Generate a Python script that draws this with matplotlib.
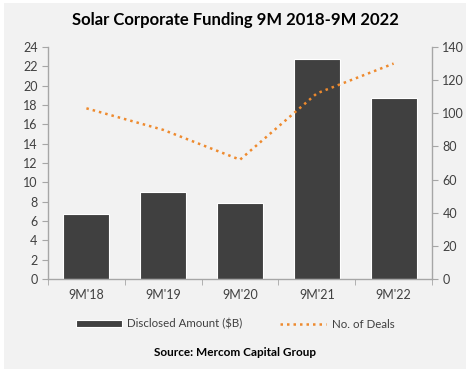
import numpy as np
import matplotlib.pyplot as plt
from matplotlib.patches import Rectangle

plt.rcParams['font.family'] = ['Lato', 'DejaVu Sans']

# data
periods = ["9M'18", "9M'19", "9M'20", "9M'21", "9M'22"]
amount = [6.7, 9.0, 7.9, 22.8, 18.7]     # disclosed amount, $B
deals = [103, 90, 72, 112, 130]          # number of deals

W, H = 470, 372
fig = plt.figure(figsize=(W / 100, H / 100), dpi=100)
fig.patch.set_facecolor('white')
# gray panel with a thin white margin
fig.patches.append(Rectangle((4 / W, 3 / H), 462 / W, 366 / H, transform=fig.transFigure,
                             facecolor='#F2F2F2', edgecolor='none', zorder=-10))

ax = fig.add_axes([48 / W, 1 - 279 / H, 384 / W, 232 / H])
ax.set_facecolor('none')
ax2 = ax.twinx()

x = np.arange(len(periods))
ax.bar(x, amount, width=0.6, color='#404040', edgecolor='white', linewidth=0.8,
       label='Disclosed Amount ($B)', zorder=2)
ax2.plot(x, deals, color='#EE8A2E', linestyle=(0, (1, 1.6)), linewidth=1.8,
         label='No. of Deals')

ax.set_xlim(-0.5, len(periods) - 0.5)
ax.set_ylim(0, 24)
ax.set_yticks(range(0, 25, 2))
ax2.set_ylim(0, 140)
ax2.set_yticks(range(0, 141, 20))

gray = '#A6A6A6'
for a in (ax, ax2):
    a.spines['top'].set_visible(False)
    for s in ('left', 'right', 'bottom'):
        a.spines[s].set_color(gray)
        a.spines[s].set_linewidth(1)
    a.tick_params(colors=gray, labelcolor='#404040', labelsize=9, length=4)
ax.spines['right'].set_visible(False)
ax2.spines['left'].set_visible(False)
ax2.spines['bottom'].set_visible(False)

ax.set_xticks(x)
ax.set_xticklabels(periods)
ax.tick_params(axis='x', length=0, pad=7)
ax.set_xticks(np.arange(-0.5, len(periods)), minor=True)
ax.tick_params(axis='x', which='minor', length=4, color=gray)

fig.text(0.5, 1 - 20 / H, 'Solar Corporate Funding 9M 2018-9M 2022',
         ha='center', va='center', fontsize=12, fontweight='bold', color='black')

h1, l1 = ax.get_legend_handles_labels()
h2, l2 = ax2.get_legend_handles_labels()
fig.legend(h1 + h2, l1 + l2, loc='center', bbox_to_anchor=(0.5, 1 - 324 / H),
           ncol=2, frameon=False, fontsize=8.3, handlelength=4.0, handleheight=0.6,
           columnspacing=3.3, handletextpad=0.45, labelcolor='#404040')

fig.text(0.5, 1 - 352 / H, 'Source: Mercom Capital Group', ha='center', va='center',
         fontsize=8.5, fontweight='bold', color='black')

fig.savefig('out.png', dpi=100, facecolor=fig.get_facecolor())
